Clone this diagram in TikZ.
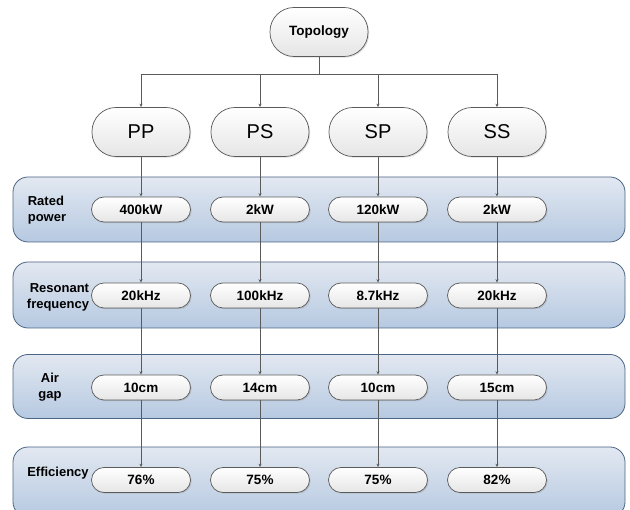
\documentclass[tikz,border=0pt]{standalone}
\usepackage{fontspec}
\setmainfont{Liberation Sans}
\usetikzlibrary{arrows.meta,shadows}

\definecolor{lineGray}{HTML}{5A5A5A}
\definecolor{bandTop}{HTML}{E2E8F1}
\definecolor{bandBot}{HTML}{B6C9E1}
\definecolor{bandEdge}{HTML}{4B6584}

\tikzset{
  pillbase/.style={draw=lineGray, line width=0.7pt, top color=white, bottom color=black!10,
    drop shadow={shadow xshift=1.2pt, shadow yshift=-1.2pt, opacity=0.25}},
  topbox/.style={pillbase, rectangle, rounded corners=24pt, minimum width=98pt, minimum height=49pt,
    font=\bfseries\fontsize{13.5}{15}\selectfont, inner sep=0pt},
  typebox/.style={pillbase, rectangle, rounded corners=24pt, minimum width=98pt, minimum height=49pt,
    font=\fontsize{20}{22}\selectfont, inner sep=0pt},
  valbox/.style={pillbase, rectangle, rounded corners=12.5pt, minimum width=99pt, minimum height=25pt,
    font=\bfseries\fontsize{13.5}{15}\selectfont, inner sep=0pt},
  band/.style={draw=bandEdge, line width=0.8pt, rounded corners=15pt, top color=bandTop, bottom color=bandBot,
    minimum width=612pt, inner sep=0pt},
  bandlabel/.style={font=\bfseries\fontsize{13}{16}\selectfont, inner sep=0pt},
  arr/.style={draw=lineGray, line width=0.6pt, -{Stealth[length=3.5pt,width=3pt]}},
}

\begin{document}
\begin{tikzpicture}[x=1pt,y=-1pt]
\useasboundingbox (0,0) rectangle (630,510);
\begin{scope}
\clip (0,0) rectangle (630,510);

% horizontal bands
\node[band, minimum height=65pt] (band1) at (319,209.5) {};
\node[band, minimum height=66pt] (band2) at (319,295) {};
\node[band, minimum height=64pt] (band3) at (319,386.5) {};
\node[band, minimum height=70pt] (band4) at (319,482) {};

% band labels
\node[bandlabel, align=left]   (lab1) at (47,210) {Rated\\power};
\node[bandlabel, align=right]  (lab2) at (58,297) {Resonant\\frequency};
\node[bandlabel, align=center] (lab3) at (50,387) {Air\\gap};
\node[bandlabel]               (lab4) at (58,473) {Efficiency};

% root and topology types
\node[topbox] (topo) at (319,32) {Topology};
\node[typebox] (t1) at (141,132) {PP};
\node[typebox] (t2) at (260,132) {PS};
\node[typebox] (t3) at (378,132) {SP};
\node[typebox] (t4) at (497,132) {SS};

% values per topology
\foreach \c/\x/\a/\b/\g/\e in {1/141/400kW/20kHz/10cm/76\%,
                              2/260/2kW/100kHz/14cm/75\%,
                              3/378/120kW/8.7kHz/10cm/75\%,
                              4/497/2kW/20kHz/15cm/82\%}{
  \node[valbox] (v\c r1) at (\x,209.5) {\a};
  \node[valbox] (v\c r2) at (\x,295.5) {\b};
  \node[valbox] (v\c r3) at (\x,387.5) {\g};
  \node[valbox] (v\c r4) at (\x,480) {\e};
}

% connectors
\foreach \c in {1,...,4}{
  \draw[arr] (topo.south) -- ++(0,17) -| (t\c.north);
  \draw[arr] (t\c.south) -- (v\c r1.north);
  \draw[arr] (v\c r1.south) -- (v\c r2.north);
  \draw[arr] (v\c r2.south) -- (v\c r3.north);
  \draw[arr] (v\c r3.south) -- (v\c r4.north);
}
\end{scope}
\end{tikzpicture}
\end{document}
